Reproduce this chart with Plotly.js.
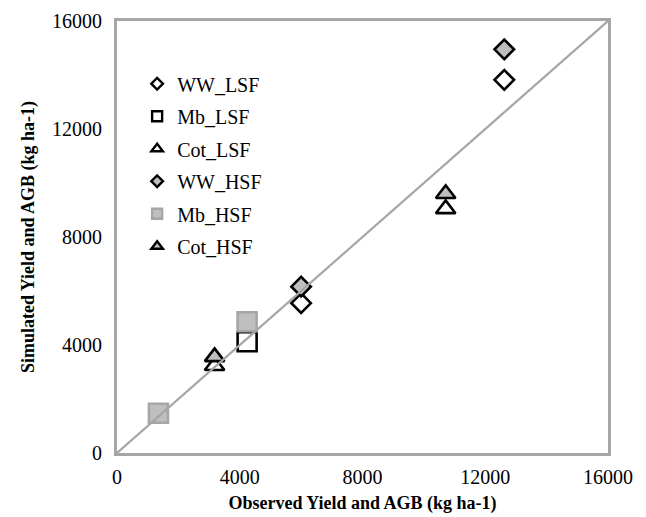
<!DOCTYPE html>
<html><head><meta charset="utf-8">
<script src="https://cdn.plot.ly/plotly-3.0.1.min.js"></script>
<style>html,body{margin:0;padding:0;background:#fff}</style>
</head><body>
<div id="chart" style="width:646px;height:517px"></div>
<script>
const seriesNames = ["WW_LSF","Mb_LSF","Cot_LSF","WW_HSF","Mb_HSF","Cot_HSF"];
const wwLsfX = [6000, 12620];
const wwLsfY = [5550, 13820];
const mbLsfX = [4240];
const mbLsfY = [4120];
const cotLsfX = [3180, 10710];
const cotLsfY = [3230, 9040];
const wwHsfX = [6000, 12620];
const wwHsfY = [6160, 14950];
const mbHsfX = [1350, 4240];
const mbHsfY = [1470, 4860];
const cotHsfX = [3180, 10710];
const cotHsfY = [3560, 9600];
const oneToOne = [0, 16000];
const tickVals = [0, 4000, 8000, 12000, 16000];
const tickText = ["0", "4000", "8000", "12000", "16000"];

const FONT = 'Liberation Serif, Times New Roman, serif';
const styles = [
  {symbol:'diamond', color:'#ffffff', line:'#000000'},
  {symbol:'square', color:'#ffffff', line:'#000000'},
  {symbol:'triangle-up', color:'#ffffff', line:'#000000'},
  {symbol:'diamond', color:'#bfbfbf', line:'#000000'},
  {symbol:'square', color:'#bfbfbf', line:'#a6a6a6'},
  {symbol:'triangle-up', color:'#bfbfbf', line:'#000000'}
];
const sizes = [15, 19, 17, 15, 19, 17];
const xs = [wwLsfX, mbLsfX, cotLsfX, wwHsfX, mbHsfX, cotHsfX];
const ys = [wwLsfY, mbLsfY, cotLsfY, wwHsfY, mbHsfY, cotHsfY];

const traces = [];
for (let i = 0; i < 6; i++) {
  traces.push({
    x: xs[i], y: ys[i], type:'scatter', mode:'markers', name: seriesNames[i],
    showlegend:false, cliponaxis:false,
    marker:{symbol:styles[i].symbol, size:sizes[i], color:styles[i].color,
            line:{color:styles[i].line, width:2.6}}
  });
}
traces.push({x:oneToOne, y:oneToOne, type:'scatter', mode:'lines', showlegend:false,
  line:{color:'#a6a6a6', width:2.2}, hoverinfo:'skip'});
for (let i = 0; i < 6; i++) {
  traces.push({
    x:[null], y:[null], type:'scatter', mode:'markers', name: seriesNames[i],
    showlegend:true, legendgroup:'g' + i,
    marker:{symbol:styles[i].symbol, size:[9,10,10,9,10,10][i], color:styles[i].color,
            line:{color:styles[i].line, width:2.4}}
  });
}

const axisCommon = {
  range:[0,16000], tickvals:tickVals, ticktext:tickText, showgrid:false, zeroline:false,
  showline:true, mirror:true, linecolor:'#a6a6a6', linewidth:3,
  ticks:'', tickfont:{family:FONT, size:20, color:'#000'}
};

const layout = {
  width:646, height:517,
  margin:{l:117, r:38, t:21, b:64},
  paper_bgcolor:'#fff', plot_bgcolor:'#fff',
  font:{family:FONT, color:'#000', size:16},
  xaxis:Object.assign({}, axisCommon, {
    ticklabelstandoff:4,
    title:{text:'<b>Observed Yield and AGB (kg ha-1)</b>', standoff:10,
      font:{family:FONT, size:18, color:'#000'}}
  }),
  yaxis:Object.assign({}, axisCommon, {
    ticklabelstandoff:8,
    title:{text:'<b>Simulated Yield and AGB (kg ha-1)</b>', standoff:13,
      font:{family:FONT, size:18, color:'#000'}}
  }),
  legend:{x:0.041, y:0.9, xanchor:'left', yanchor:'top', bgcolor:'rgba(0,0,0,0)',
    font:{family:FONT, size:20, color:'#000'},
    tracegroupgap:3.5, itemwidth:30},
  showlegend:true
};

Plotly.newPlot('chart', traces, layout, {displayModeBar:false, staticPlot:true});
</script>
</body></html>
